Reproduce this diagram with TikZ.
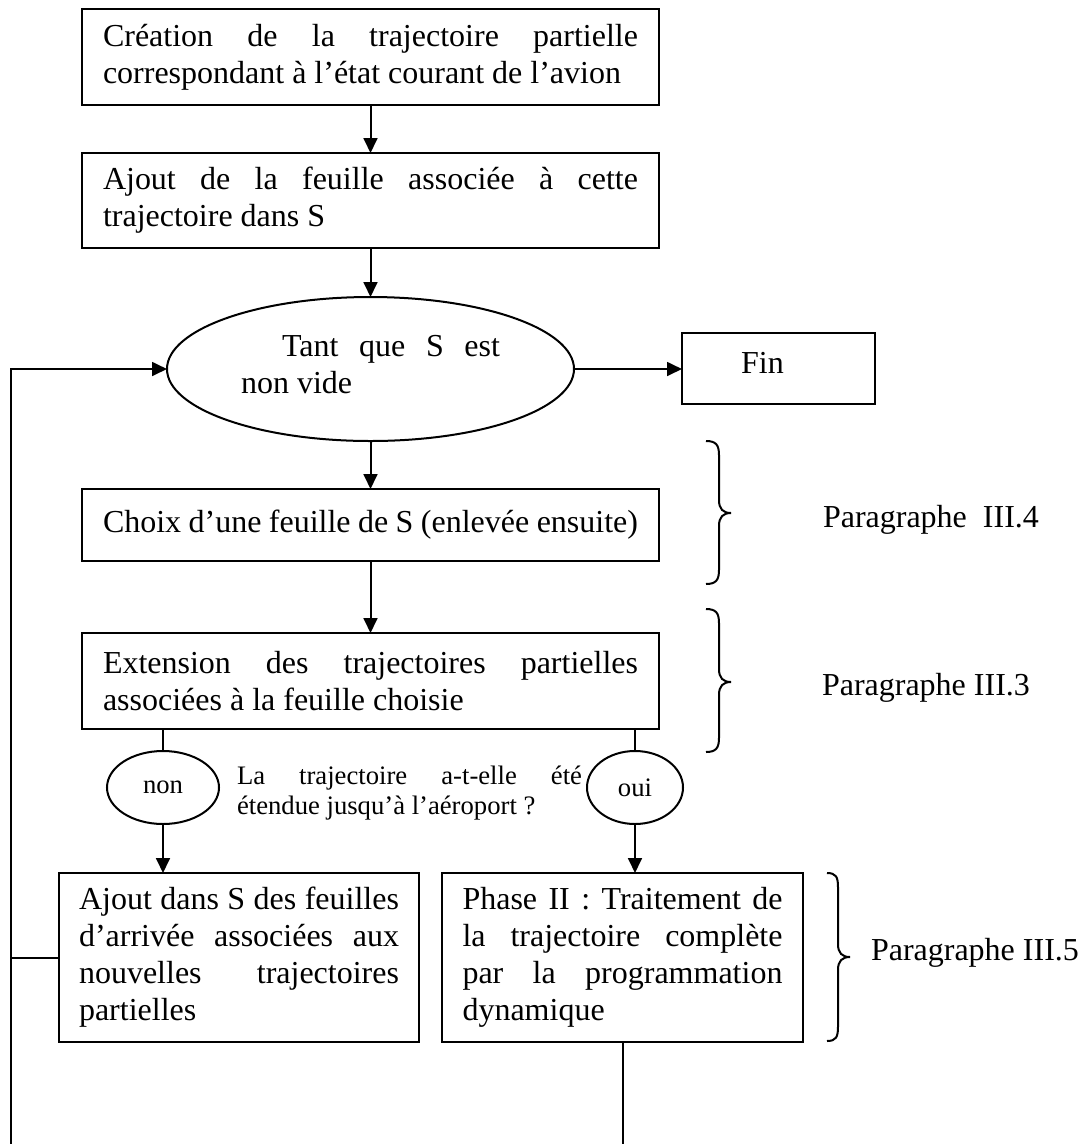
\documentclass[tikz,border=0pt]{standalone}
\usepackage{fontspec}
\setmainfont{Liberation Serif}
\usetikzlibrary{arrows.meta,shapes.geometric}
\newcommand\mybig{\fontsize{12pt}{13.875pt}\selectfont\hyphenpenalty=10000\exhyphenpenalty=10000}
\newcommand\mysmall{\fontsize{10pt}{11.25pt}\selectfont\hyphenpenalty=10000\exhyphenpenalty=10000}
\begin{document}
\begin{tikzpicture}[x=0.375pt,y=-0.375pt,
  every node/.style={inner sep=0pt,outer sep=0pt},
  lw/.style={line width=0.75pt},
  arr/.style={lw,-{Triangle[length=5.6pt,width=5.2pt]}},
  box/.style={draw,lw,rectangle,font=\mybig},
  tbox/.style={align=justify},
  oval/.style={draw,lw,ellipse}]
\useasboundingbox (0,0) rectangle (1085,1144);

\node[box,tbox,minimum width=216.375pt,minimum height=36pt,text width=200.625pt] (b1) at (370.5,57)
  {Création de la trajectoire partielle\linebreak correspondant à l’état courant de l’avion};
\node[box,tbox,minimum width=216.375pt,minimum height=35.625pt,text width=200.625pt] (b2) at (370.5,200.5)
  {Ajout de la feuille associée à cette\linebreak trajectoire dans S};
\node[oval,font=\mybig,minimum width=152.625pt,minimum height=54pt,text width=97.125pt,align=justify] (e) at (370.5,369)
  {\hspace*{15.375pt}Tant que S est\linebreak non vide\par\kern3.5pt};
\node[box,minimum width=72.375pt,minimum height=26.625pt,text depth=4pt] (fin) at (778.5,368.5) {Fin\kern12pt};
\node[box,tbox,minimum width=216.375pt,minimum height=27pt,text width=200.625pt] (choix) at (370.5,525)
  {Choix d’une feuille de S (enlevée ensuite)};
\node[box,tbox,minimum width=216.375pt,minimum height=36pt,text width=200.625pt] (ext) at (370.5,681)
  {Extension des trajectoires partielles\linebreak associées à la feuille choisie};
\node[oval,font=\mysmall,minimum width=42pt,minimum height=27.375pt] (non) at (163,787.5) {non};
\node[oval,font=\mysmall,minimum width=36pt,minimum height=27.375pt] (oui) at (635,787.5) {oui};
\node[text width=129.375pt,align=justify,font=\mysmall] (q) at (409.5,793)
  {La trajectoire a-t-elle été\linebreak étendue jusqu’à l’aéroport~?};
\node[box,tbox,minimum width=135pt,minimum height=63.375pt,text width=120pt] (ajout) at (239,957.5)
  {Ajout dans S des feuilles\linebreak d’arrivée associées aux\linebreak nouvelles trajectoires\linebreak partielles};
\node[box,tbox,minimum width=135.375pt,minimum height=63.375pt,text width=120pt] (phase) at (622.5,957.5)
  {Phase II~: Traitement de\linebreak la trajectoire complète\linebreak par la programmation\linebreak dynamique};

\node[anchor=base west,font=\mybig] (p4) at (823,527) {Paragraphe\ \ III.4};
\node[anchor=base west,font=\mybig] (p3) at (822,695) {Paragraphe III.3};
\node[anchor=base west,font=\mybig] (p5) at (871,960) {Paragraphe III.5};

\coordinate (lb) at (11,1144);
\coordinate (pb) at (622.5,1144);

\draw[arr] (b1.south) -- (b2.north);
\draw[arr] (b2.south) -- (e.north);
\draw[arr] (e.east) -- (e.east -| fin.west);
\draw[arr] (e.south) -- (choix.north);
\draw[arr] (choix.south) -- (ext.north);
\draw[lw] (non.north |- ext.south) -- (non.north);
\draw[lw] (oui.north |- ext.south) -- (oui.north);
\draw[arr] (non.south) -- (non.south |- ajout.north);
\draw[arr] (oui.south) -- (oui.south |- phase.north);
\draw[lw] (phase.south) -- (pb);
\draw[arr] (lb) |- (e.west);
\draw[lw] (ajout.west) -- (ajout.west -| lb);

% braces
\draw[lw] (706,441) .. controls (716,441) and (719,445) .. (719,455) -- (719,500)
  .. controls (719,509) and (723,513) .. (731,513)
  .. controls (723,513) and (719,517) .. (719,526) -- (719,570)
  .. controls (719,580) and (716,584) .. (706,584);
\draw[lw] (706,609) .. controls (716,609) and (719,613) .. (719,623) -- (719,669)
  .. controls (719,678) and (723,682) .. (731,682)
  .. controls (723,682) and (719,686) .. (719,695) -- (719,738)
  .. controls (719,748) and (716,752) .. (706,752);
\draw[lw] (827,873) .. controls (836,873) and (838,877) .. (838,887) -- (838,944)
  .. controls (838,953) and (842,957) .. (850,957)
  .. controls (842,957) and (838,961) .. (838,970) -- (838,1027)
  .. controls (838,1037) and (836,1041) .. (827,1041);
\end{tikzpicture}
\end{document}
